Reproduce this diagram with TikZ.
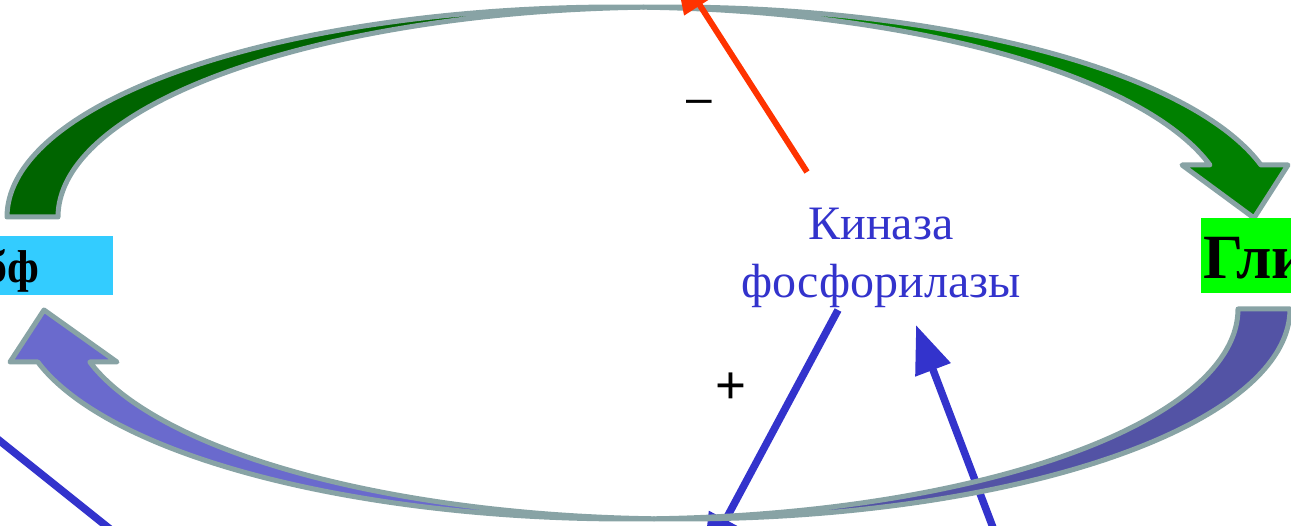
\documentclass[tikz,border=0pt]{standalone}
\usepackage{fontspec}
\setmainfont{Liberation Serif}
\newfontfamily\signfont{Liberation Sans}
\usetikzlibrary{arrows.meta}
\definecolor{outl}{HTML}{88A3A5}
\definecolor{gback}{HTML}{006400}
\definecolor{gfront}{HTML}{008000}
\definecolor{bhead}{HTML}{6A6ACD}
\definecolor{bbase}{HTML}{5353A5}
\definecolor{kblue}{HTML}{3333CC}
\definecolor{kred}{HTML}{FF3300}
\definecolor{boxcyan}{HTML}{33CCFF}
\definecolor{boxgreen}{HTML}{00FF00}
\begin{document}
\begin{tikzpicture}[x=1pt,y=-1pt,
  band/.style={draw=outl, line width=5pt, line join=round},
  conn/.style={line width=7.5pt, -{Triangle[length=48pt,width=36pt]}},
  labelbox/.style={inner sep=0pt, font=\bfseries, text=black},
  sign/.style={inner sep=0pt, text=black}]
\useasboundingbox (0,0) rectangle (1291,526);

% connectors that pass under the curved arrows
\coordinate (downstart) at (838,310);
\coordinate (downtip) at (703,562);
\coordinate (upstart) at (1000,546);
\coordinate (uptip) at (916,325);
\coordinate (llstart) at (-30,417);
\coordinate (llend) at (130,545);
\draw[conn, draw=kblue] (downstart) -- (downtip);
\draw[conn, draw=kblue] (upstart) -- (uptip);
\draw[line width=7.5pt, draw=kblue] (llstart) -- (llend);

% top curved arrow (green)
\path[band, fill=gback]
  plot[variable=\t, domain=180:87.6, samples=90] ({618+611*cos(\t)},{217-210*sin(\t)})
  -- plot[variable=\t, domain=92.4:180, samples=90] ({669+611*cos(\t)},{217-210*sin(\t)})
  -- cycle;
\path[band, fill=gfront]
  plot[variable=\t, domain=92.4:14.34, samples=90] ({669+611*cos(\t)},{217-210*sin(\t)})
  -- (1288,165) -- (1254,218) -- (1182,165)
  -- plot[variable=\t, domain=14.34:87.6, samples=90] ({618+611*cos(\t)},{217-210*sin(\t)})
  -- cycle;

% bottom curved arrow (blue)
\path[band, fill=bhead]
  plot[variable=\t, domain=165.38:87.56, samples=90] ({628+610*cos(\t)},{309+210*sin(\t)})
  -- plot[variable=\t, domain=92.44:165.38, samples=90] ({680+610*cos(\t)},{309+210*sin(\t)})
  -- (117,362) -- (44,310) -- (10,362) -- cycle;
\path[band, fill=bbase]
  plot[variable=\t, domain=92.44:0, samples=90] ({680+610*cos(\t)},{309+210*sin(\t)})
  -- plot[variable=\t, domain=0:87.56, samples=90] ({628+610*cos(\t)},{309+210*sin(\t)})
  -- cycle;

% boxes
\node (left) [labelbox, fill=boxcyan, anchor=base west, text height=47pt, text depth=12pt,
  font=\bfseries\fontsize{46}{46}\selectfont] at (-16,283) {бф\hspace*{74pt}};
\node (right) [labelbox, fill=boxgreen, anchor=base west, text height=61pt, text depth=14pt,
  font=\bfseries\fontsize{63}{63}\selectfont] at (1201,279) {\hspace*{2pt}Гли\hspace*{80pt}};

% enzyme label
\node (kin) [inner sep=0pt, text=kblue, align=center, anchor=base,
  font=\fontsize{48}{58}\selectfont] at (881,298) {Киназа\\фосфорилазы};

% signs
\node (minus) [sign, anchor=base, font=\signfont\fontsize{46}{46}\selectfont] at (699.5,114) {–};
\node (plus) [sign, anchor=base, font=\signfont\fontsize{53}{53}\selectfont] at (731,404) {+};

% inhibitory connector on top
\coordinate (redstart) at (807,172);
\coordinate (redtip) at (674,-35);
\draw[conn, draw=kred, line width=6pt] (redstart) -- (redtip);
\end{tikzpicture}
\end{document}
